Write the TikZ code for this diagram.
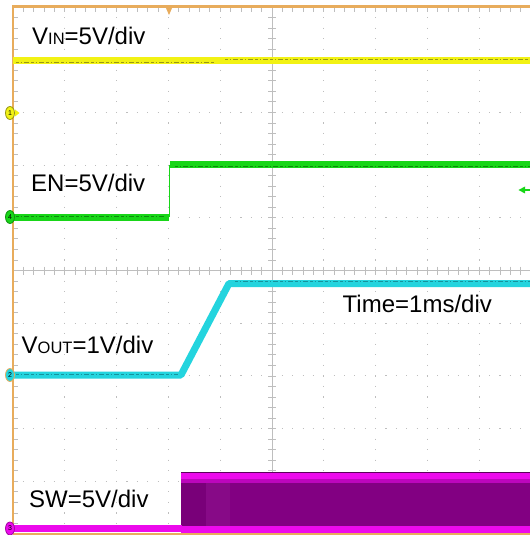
\documentclass[tikz,border=0pt]{standalone}
\usepackage{fontspec}
\setmainfont{Liberation Sans}
\usetikzlibrary{shapes.geometric}
\definecolor{frameor}{RGB}{232,172,92}
\definecolor{gridc}{RGB}{190,190,190}
\definecolor{vinc}{RGB}{242,242,20}
\definecolor{vindark}{RGB}{130,130,20}
\definecolor{enc}{RGB}{24,214,24}
\definecolor{endark}{RGB}{10,120,10}
\definecolor{voc}{RGB}{36,212,222}
\definecolor{vodark}{RGB}{20,130,140}
\definecolor{swm}{RGB}{236,10,236}
\definecolor{swp}{RGB}{130,0,130}
\newcommand\smc[1]{{\fontsize{16.5bp}{20bp}\selectfont #1}}
\begin{document}
\begin{tikzpicture}[x=1bp,y=-1bp,
  lbl/.style={anchor=base west, inner sep=0pt, font=\fontsize{24bp}{28bp}\selectfont},
  vdots/.style={gridc, line width=1.1bp, dash pattern=on 1.1bp off 9.44bp, dash phase=0.5bp},
  hdots/.style={gridc, line width=1.1bp, dash pattern=on 1.1bp off 9.26bp, dash phase=0.5bp},
  gline/.style={gridc, line width=0.8bp},
  tickmark/.style={gridc, line width=0.8bp},
  framel/.style={frameor, line width=2.2bp},
  chmark/.style={ellipse, minimum width=9bp, minimum height=13bp, inner sep=0pt,
                 font=\fontsize{7bp}{7bp}\selectfont, line width=0.8bp},
  trace/.style={line width=7bp, line join=round},
  noise/.style={line width=0.9bp, dash pattern=on 3bp off 1.5bp on 1bp off 2.5bp on 5bp off 2bp}]
\useasboundingbox (0,0) rectangle (530,535);
\fill[white] (0,0) rectangle (530,535);
% dotted grid
\foreach \i in {1,2,3,4,6,7,8,9}
  \draw[vdots] ({13+51.8*\i},7) -- ({13+51.8*\i},534);
\foreach \j in {1,2,3,4,6,7,8,9}
  \draw[hdots] (13,{7+52.7*\j}) -- (531,{7+52.7*\j});
% centre lines
\draw[gline] (272,7) -- (272,534);
\draw[gline] (13,270.5) -- (531,270.5);
% ticks
\foreach \k in {1,...,49} {
  \draw[tickmark] (268,{7+10.54*\k}) -- (276,{7+10.54*\k});
  \draw[tickmark] (13,{7+10.54*\k}) -- ++(5,0);
}
\foreach \k in {1,...,50} {
  \draw[tickmark] ({13+10.36*\k},266.5) -- ({13+10.36*\k},274.5);
  \draw[tickmark] ({13+10.36*\k},7) -- ++(0,5);
}
% frame
\draw[framel] (13,534) -- (13,6.5) -- (531,6.5);
\draw[framel] (13,533.8) -- (531,533.8);
\fill[frameor] (165.5,7) -- (172.5,7) -- (169,15) -- cycle;
% VIN trace
\draw[trace, vinc] (13,61) -- (530,61);
\draw[noise, vindark!80!vinc] (16,62.5) -- (215,62.5);
\draw[noise, vindark!80!vinc] (225,59.5) -- (530,59.5);
% EN trace
\draw[enc, line width=1bp] (169.5,165) -- (169.5,217);
\draw[trace, enc, line cap=butt] (13,217) -- (169,217);
\draw[trace, enc, line cap=butt] (170,165) -- (530,165);
\draw[noise, endark!80!enc] (16,216.5) -- (165,216.5);
\draw[noise, endark!80!enc] (175,166) -- (530,166);
\fill[enc] (518.5,190) -- (525,186.5) -- (525,193.5) -- cycle;
\draw[enc, line width=1.2bp] (524,190) -- (531,190);
% VOUT trace
\draw[trace, voc] (13,375) -- (181,375) -- (229,283.5) -- (530,283.5);
\draw[noise, vodark!80!voc] (16,374) -- (178,374);
\draw[noise, vodark!80!voc] (235,281.5) -- (530,281.5);
% SW trace
\fill[swp] (181,473) rectangle (531,533);
\fill[swp!93!black] (181,481) rectangle (206,526);
\fill[swp!96!white] (206,481) rectangle (230,526);
\fill[swm] (181,473) rectangle (531,479);
\fill[swm!55!swp] (181,479) rectangle (531,483);
\draw[swp!70!black, line width=0.8bp] (181,472.8) -- (531,472.8);
\fill[swm] (181,526) rectangle (531,532.5);
\draw[trace, swm, line cap=butt] (13,528.5) -- (182,528.5);
% channel markers
\fill[vinc] (15,109.5) -- (19.5,113) -- (15,116.5) -- cycle;
\node[chmark, fill=vinc, draw=vindark!80!vinc] (m1) at (10,113) {1};
\node[chmark, fill=enc, draw=enc!70!black] (m4) at (10,217) {4};
\node[chmark, fill=voc, draw=frameor] (m2) at (10,375) {2};
\node[chmark, fill=swm, draw=swm!70!black] (m3) at (10,528.5) {3};
% labels
\node[lbl] (lvin) at (32,45) {V\smc{IN}=5V/div};
\node[lbl] (len) at (31,192) {EN=5V/div};
\node[lbl] (lvout) at (21.5,353) {V\smc{OUT}=1V/div};
\node[lbl] (ltime) at (342.5,312) {Time=1ms/div};
\node[lbl] (lsw) at (29,507) {SW=5V/div};
\end{tikzpicture}
\end{document}
